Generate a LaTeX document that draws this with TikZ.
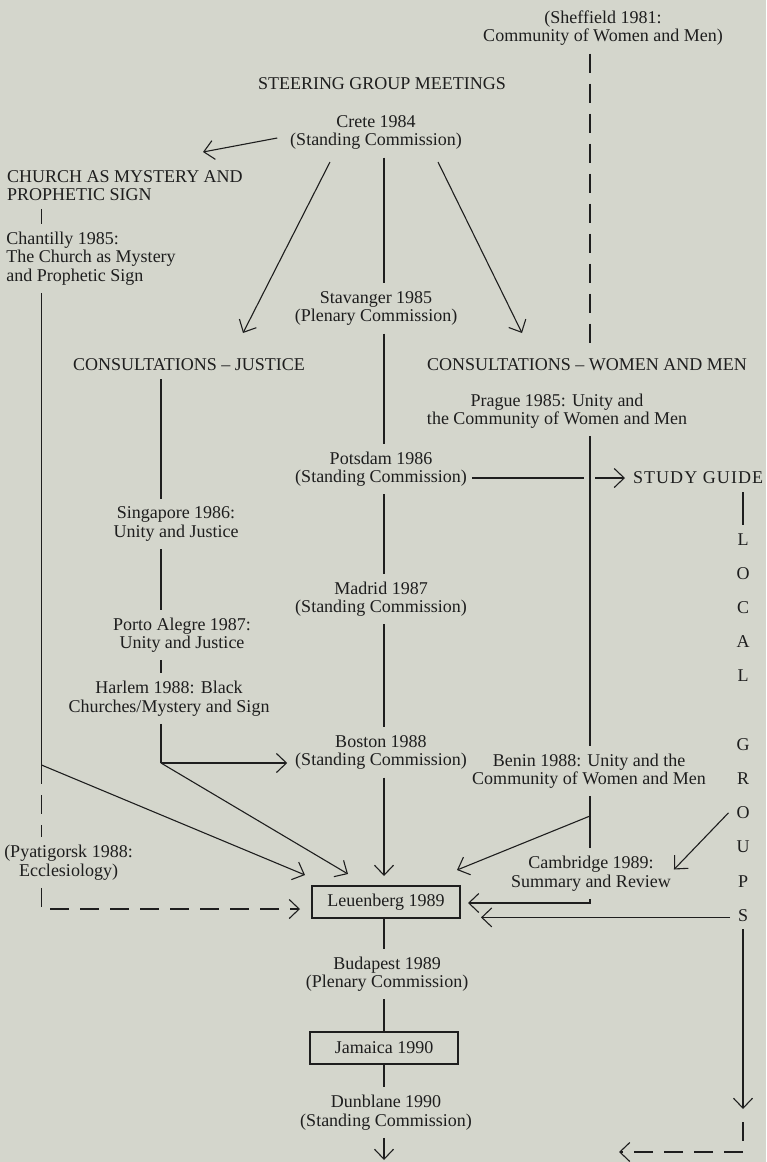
\documentclass[tikz,border=0pt]{standalone}
\usepackage{fontspec}
\setmainfont{Liberation Serif}
\usetikzlibrary{arrows.meta,calc}
\definecolor{paper}{RGB}{212,214,204}
\definecolor{ink}{RGB}{30,30,30}
\tikzset{
  txt/.style  ={inner sep=0pt, outer sep=4pt, align=center, text=ink,
                font=\fontsize{9pt}{9.25pt}\selectfont},
  ltxt/.style ={txt, align=left},
  mbox/.style ={txt, draw=ink, line width=0.55pt, minimum width=74pt,
                minimum height=16pt, outer sep=0pt},
  ln/.style   ={draw=ink, line width=0.55pt},
  ar/.style   ={ln, -{Straight Barb[length=5pt,width=9.5pt]}},
  dl/.style   ={ln, dash pattern=on 9.5pt off 5.5pt},
  arw/.style  ={ar, dash pattern=on 9.5pt off 5.5pt},
}
\begin{document}
\begin{tikzpicture}[x=0.5pt, y=-0.5pt]
\path[use as bounding box, fill=paper] (0,0) rectangle (766,1162);
\coordinate (lx) at (41.5,0); \coordinate (jx) at (161,0); \coordinate (cx) at (384,0);
\coordinate (wx) at (590,0); \coordinate (gx) at (743,0);
\node[txt] (sheff) at (603,28) {(Sheffield 1981:\\Community of Women and Men)};
\node[txt] (title) at (382,84) {STEERING GROUP MEETINGS};
\node[txt] (crete) at (376,132.5) {Crete 1984\\(Standing Commission)};
\node[ltxt] (church) at (125,185.5) {CHURCH AS MYSTERY AND\\PROPHETIC SIGN};
\node[ltxt] (chant) at (91,258.5) {Chantilly 1985:\\The Church as Mystery\\and Prophetic Sign};
\node[txt] (stav) at (376,308.5) {Stavanger 1985\\(Plenary Commission)};
\node[txt] (consj) at (189,365) {CONSULTATIONS -- JUSTICE};
\node[txt] (conswm) at (587,365) {CONSULTATIONS -- WOMEN AND MEN};
\node[txt] (prague) at (557,411) {Prague 1985: Unity and\\the Community of Women and Men};
\node[txt] (potsdam) at (381,469) {Potsdam 1986\\(Standing Commission)};
\node[txt, anchor=west, font=\fontsize{9pt}{9.25pt}\selectfont\addfontfeature{LetterSpace=6}] (guide) at (625,478) {STUDY GUIDE};
\node[txt] (sing) at (176,524) {Singapore 1986:\\Unity and Justice};
\node[txt] (madrid) at (381,599) {Madrid 1987\\(Standing Commission)};
\node[txt] (porto) at (182,635) {Porto Alegre 1987:\\Unity and Justice};
\node[txt] (harlem) at (169,698.5) {Harlem 1988: Black\\Churches/Mystery and Sign};
\node[txt] (boston) at (381,752.5) {Boston 1988\\(Standing Commission)};
\node[txt] (benin) at (589,771) {Benin 1988: Unity and the\\Community of Women and Men};
\node[txt] (pyat) at (68.5,862.5) {(Pyatigorsk 1988:\\Ecclesiology)};
\node[mbox] (leu) at (386,902) {Leuenberg 1989};
\node[txt] (camb) at (591,873.5) {Cambridge 1989:\\Summary and Review};
\node[txt] (buda) at (387,974) {Budapest 1989\\(Plenary Commission)};
\node[mbox] (jam) at (384,1048) {Jamaica 1990};
\node[txt] (dunb) at (386,1112.5) {Dunblane 1990\\(Standing Commission)};
\foreach \ch/\i in {L/1,O/2,C/3,A/4,L/5,G/7,R/8,O/9,U/10,P/11,S/12}
  \node[txt] (g\i) at (743,{505+34.2*\i}) {\ch};
\coordinate (lj) at (41.5,765); \coordinate (hj) at (161,763); \coordinate (bj) at (590,816);
\coordinate (gdn) at (743,1109); \coordinate (lend) at (619,1152); \coordinate (dend) at (384,1160);
\draw[dl] (sheff.south -| wx) -- (conswm.north -| wx);
\draw[ar] ($(crete.west)+(-5,5.5)$) -- ($(church)+(78,-33.5)$);
\draw[ar] ($(crete)+(-46,29.5)$) -- ($(consj)+(54,-32)$);
\draw[ar] ($(crete)+(62,29.5)$) -- ($(conswm)+(-65,-32)$);
\draw[ln] (crete.south -| cx) -- (stav.north -| cx);
\draw[ln] (church.south -| lx) -- (chant.north -| lx);
\draw[ln] (chant.south -| lx) -- (lj);
\draw[ar] (lj) -- ($(leu.west)+(-7,-27)$);
\draw[dl] (lj) -- (pyat.north -| lx);
\draw[arw] (pyat.south -| lx) |- ($(leu.west)+(-12,7)$);
\draw[ln] (consj.south -| jx) -- (sing.north -| jx);
\draw[ln] (sing.south -| jx) -- (porto.north -| jx);
\draw[ln] (porto.south -| jx) -- (harlem.north -| jx);
\draw[ln] (harlem.south -| jx) -- (hj);
\draw[ar] (hj) -- (hj -| boston.west);
\draw[ar] (hj) -- ($(leu.north)+(-38,-12)$);
\draw[ln] (stav.south -| cx) -- (potsdam.north -| cx);
\draw[ln] (potsdam.south -| cx) -- (madrid.north -| cx);
\draw[ln] (madrid.south -| cx) -- (boston.north -| cx);
\draw[ar] (boston.south -| cx) -- ($(leu.north -| cx)+(0,-10)$);
\draw[ln] ($(guide.west -| potsdam.east)+(-3,0)$) -- ($(guide.west -| wx)+(-6,0)$);
\draw[ar] ($(guide.west -| wx)+(5,0)$) -- (guide.west);
\draw[ln] (guide.south -| gx) -- (g1.north);
\draw[ln] (prague.south -| wx) -- (benin.north -| wx);
\draw[ln] (benin.south -| wx) -- (camb.north -| wx);
\draw[ar] (bj) -- ($(leu.north east)+(-3,-16)$);
\draw[ar] (camb.south -| wx) |- ($(leu.east)+(8,1)$);
\draw[ar] (g9.west) -- ($(camb.east)+(-5,-4)$);
\draw[ar] ($(g12.west)+(0,2)$) -- ($(g12.west -| leu.east)+(21,2)$);
\draw[ar] (g12.south) -- (gdn);
\draw[arw] ($(gdn)+(0,13)$) |- (lend);
\draw[ln] (leu.south -| cx) -- (buda.north -| cx);
\draw[ln] (buda.south -| cx) -- (jam.north -| cx);
\draw[ln] (jam.south -| cx) -- (dunb.north -| cx);
\draw[ar] (dunb.south -| cx) -- (dend);
\end{tikzpicture}
\end{document}
